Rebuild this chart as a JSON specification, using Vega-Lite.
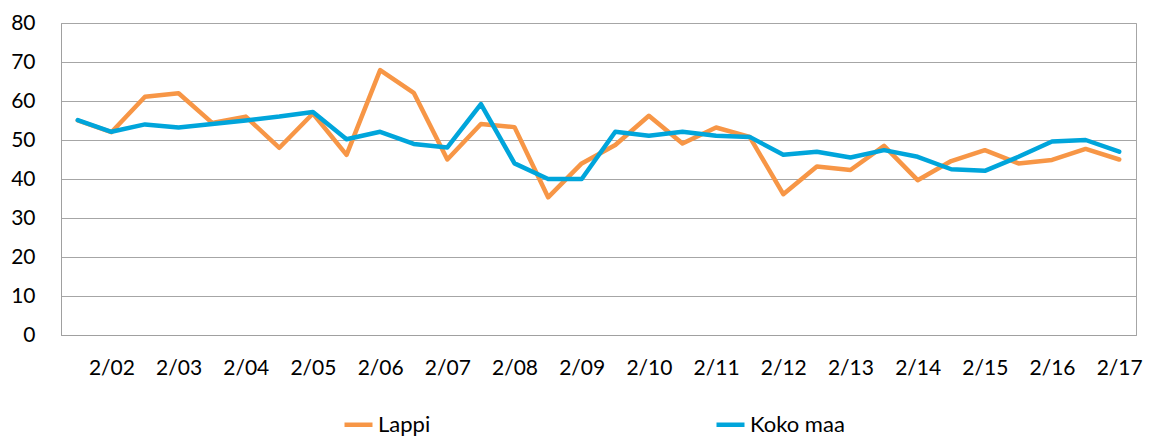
{
  "$schema": "https://vega.github.io/schema/vega-lite/v6.json",
  "width": 1075,
  "height": 312,
  "autosize": {"type": "none"},
  "padding": {"left": 61, "top": 23, "right": 23, "bottom": 102},
  "background": "white",
  "config": {
    "font": "Lato",
    "view": {"stroke": "#a6a6a6", "strokeWidth": 1}
  },
  "data": {
    "values": [
      {"kausi": "8/01", "Lappi": 55.0, "Koko maa": 55.1},
      {"kausi": "2/02", "Lappi": 52.0, "Koko maa": 52.1},
      {"kausi": "8/02", "Lappi": 61.1, "Koko maa": 54.0},
      {"kausi": "2/03", "Lappi": 62.0, "Koko maa": 53.2},
      {"kausi": "8/03", "Lappi": 54.4, "Koko maa": 54.1},
      {"kausi": "2/04", "Lappi": 56.0, "Koko maa": 55.0},
      {"kausi": "8/04", "Lappi": 48.0, "Koko maa": 56.0},
      {"kausi": "2/05", "Lappi": 56.8, "Koko maa": 57.2},
      {"kausi": "8/05", "Lappi": 46.2, "Koko maa": 50.2},
      {"kausi": "2/06", "Lappi": 67.9, "Koko maa": 52.1},
      {"kausi": "8/06", "Lappi": 62.1, "Koko maa": 49.0},
      {"kausi": "2/07", "Lappi": 45.0, "Koko maa": 48.1},
      {"kausi": "8/07", "Lappi": 54.1, "Koko maa": 59.2},
      {"kausi": "2/08", "Lappi": 53.3, "Koko maa": 44.0},
      {"kausi": "8/08", "Lappi": 35.3, "Koko maa": 40.0},
      {"kausi": "2/09", "Lappi": 44.0, "Koko maa": 40.0},
      {"kausi": "8/09", "Lappi": 48.7, "Koko maa": 52.1},
      {"kausi": "2/10", "Lappi": 56.2, "Koko maa": 51.1},
      {"kausi": "8/10", "Lappi": 49.1, "Koko maa": 52.1},
      {"kausi": "2/11", "Lappi": 53.2, "Koko maa": 51.1},
      {"kausi": "8/11", "Lappi": 50.8, "Koko maa": 50.8},
      {"kausi": "2/12", "Lappi": 36.1, "Koko maa": 46.2},
      {"kausi": "8/12", "Lappi": 43.2, "Koko maa": 47.0},
      {"kausi": "2/13", "Lappi": 42.3, "Koko maa": 45.5},
      {"kausi": "8/13", "Lappi": 48.5, "Koko maa": 47.4},
      {"kausi": "2/14", "Lappi": 39.7, "Koko maa": 45.7},
      {"kausi": "8/14", "Lappi": 44.6, "Koko maa": 42.5},
      {"kausi": "2/15", "Lappi": 47.4, "Koko maa": 42.1},
      {"kausi": "8/15", "Lappi": 44.0, "Koko maa": 45.7},
      {"kausi": "2/16", "Lappi": 44.9, "Koko maa": 49.6},
      {"kausi": "8/16", "Lappi": 47.7, "Koko maa": 50.0},
      {"kausi": "2/17", "Lappi": 45.0, "Koko maa": 47.0}
    ]
  },
  "transform": [
    {"fold": ["Lappi", "Koko maa"], "as": ["sarja", "arvo"]}
  ],
  "mark": {"type": "line", "strokeWidth": 4.5, "strokeCap": "round", "strokeJoin": "round"},
  "encoding": {
    "x": {
      "field": "kausi",
      "type": "ordinal",
      "sort": null,
      "scale": {"type": "point", "padding": 0.5},
      "axis": {
        "title": null,
        "values": ["2/02","2/03","2/04","2/05","2/06","2/07","2/08","2/09","2/10","2/11","2/12","2/13","2/14","2/15","2/16","2/17"],
        "labelAngle": 0,
        "ticks": false,
        "grid": false,
        "domainColor": "#a0a0a0",
        "domainWidth": 1,
        "labelFontSize": 21,
        "labelColor": "#000000",
        "labelPadding": 22
      }
    },
    "y": {
      "field": "arvo",
      "type": "quantitative",
      "scale": {"domain": [0, 80], "nice": false, "zero": true},
      "axis": {
        "title": null,
        "values": [0, 10, 20, 30, 40, 50, 60, 70, 80],
        "ticks": false,
        "grid": true,
        "gridColor": "#a6a6a6",
        "gridWidth": 1,
        "domainColor": "#a0a0a0",
        "domainWidth": 1,
        "labelFontSize": 21,
        "labelColor": "#000000",
        "labelPadding": 26
      }
    },
    "color": {
      "field": "sarja",
      "type": "nominal",
      "sort": ["Lappi", "Koko maa"],
      "scale": {"domain": ["Lappi", "Koko maa"], "range": ["#F79646", "#00A5DB"]},
      "legend": {
        "orient": "none",
        "legendX": 281,
        "legendY": 385,
        "direction": "horizontal",
        "title": null,
        "symbolType": "stroke",
        "symbolSize": 784,
        "symbolStrokeWidth": 4.5,
        "labelFontSize": 22,
        "labelColor": "#000000",
        "labelOffset": 3,
        "columnPadding": 276,
        "padding": 0
      }
    }
  }
}
